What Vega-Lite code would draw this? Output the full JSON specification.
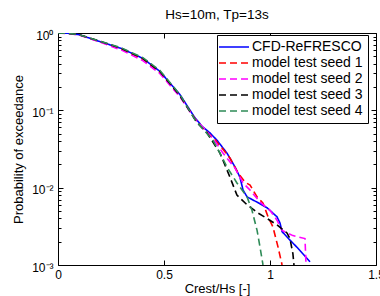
{
  "$schema": "https://vega.github.io/schema/vega-lite/v6.json",
  "width": 318,
  "height": 232,
  "autosize": {"type": "none"},
  "padding": {"left": 58, "top": 33, "right": 4, "bottom": 31},
  "background": "#ffffff",
  "title": {"text": "Hs=10m, Tp=13s", "anchor": "middle", "frame": "group", "offset": 8, "fontSize": 13.5, "fontWeight": "normal", "color": "#000", "font": "Liberation Sans"},
  "config": {
    "font": "Liberation Sans",
    "view": {"stroke": "#000", "strokeWidth": 1},
    "axis": {"grid": false, "domain": false, "labelColor": "#000", "titleColor": "#000", "tickColor": "#000", "labelFontSize": 12, "titleFontSize": 13, "titleFontWeight": "normal", "labelFlush": false, "labelOverlap": false, "labelBound": false, "labelFont": "Liberation Sans", "titleFont": "Liberation Sans"}
  },
  "data": {"values": [
    {"s": "CFD-ReFRESCO", "x": 0, "p": 1},
    {"s": "CFD-ReFRESCO", "x": 0.05, "p": 0.99},
    {"s": "CFD-ReFRESCO", "x": 0.1, "p": 0.95},
    {"s": "CFD-ReFRESCO", "x": 0.2, "p": 0.77},
    {"s": "CFD-ReFRESCO", "x": 0.3, "p": 0.63},
    {"s": "CFD-ReFRESCO", "x": 0.4, "p": 0.47},
    {"s": "CFD-ReFRESCO", "x": 0.48, "p": 0.32},
    {"s": "CFD-ReFRESCO", "x": 0.575, "p": 0.16},
    {"s": "CFD-ReFRESCO", "x": 0.646, "p": 0.08},
    {"s": "CFD-ReFRESCO", "x": 0.68, "p": 0.062},
    {"s": "CFD-ReFRESCO", "x": 0.717, "p": 0.051},
    {"s": "CFD-ReFRESCO", "x": 0.75, "p": 0.041},
    {"s": "CFD-ReFRESCO", "x": 0.797, "p": 0.028},
    {"s": "CFD-ReFRESCO", "x": 0.835, "p": 0.0185},
    {"s": "CFD-ReFRESCO", "x": 0.858, "p": 0.0137},
    {"s": "CFD-ReFRESCO", "x": 0.873, "p": 0.0093},
    {"s": "CFD-ReFRESCO", "x": 0.892, "p": 0.0076},
    {"s": "CFD-ReFRESCO", "x": 0.939, "p": 0.0065},
    {"s": "CFD-ReFRESCO", "x": 0.986, "p": 0.0055},
    {"s": "CFD-ReFRESCO", "x": 1.033, "p": 0.0042},
    {"s": "CFD-ReFRESCO", "x": 1.047, "p": 0.0035},
    {"s": "CFD-ReFRESCO", "x": 1.057, "p": 0.0027},
    {"s": "CFD-ReFRESCO", "x": 1.094, "p": 0.0021},
    {"s": "CFD-ReFRESCO", "x": 1.127, "p": 0.0017},
    {"s": "CFD-ReFRESCO", "x": 1.189, "p": 0.0011},
    {"s": "model test seed 1", "x": 0, "p": 1},
    {"s": "model test seed 1", "x": 0.05, "p": 0.99},
    {"s": "model test seed 1", "x": 0.1, "p": 0.95},
    {"s": "model test seed 1", "x": 0.2, "p": 0.77},
    {"s": "model test seed 1", "x": 0.3, "p": 0.62},
    {"s": "model test seed 1", "x": 0.4, "p": 0.46},
    {"s": "model test seed 1", "x": 0.48, "p": 0.31},
    {"s": "model test seed 1", "x": 0.575, "p": 0.155},
    {"s": "model test seed 1", "x": 0.646, "p": 0.078},
    {"s": "model test seed 1", "x": 0.69, "p": 0.056},
    {"s": "model test seed 1", "x": 0.74, "p": 0.042},
    {"s": "model test seed 1", "x": 0.78, "p": 0.031},
    {"s": "model test seed 1", "x": 0.811, "p": 0.0242},
    {"s": "model test seed 1", "x": 0.849, "p": 0.0155},
    {"s": "model test seed 1", "x": 0.882, "p": 0.0118},
    {"s": "model test seed 1", "x": 0.906, "p": 0.0108},
    {"s": "model test seed 1", "x": 0.939, "p": 0.0076},
    {"s": "model test seed 1", "x": 0.967, "p": 0.0063},
    {"s": "model test seed 1", "x": 0.991, "p": 0.0042},
    {"s": "model test seed 1", "x": 1.014, "p": 0.0031},
    {"s": "model test seed 1", "x": 1.038, "p": 0.0017},
    {"s": "model test seed 1", "x": 1.057, "p": 0.001},
    {"s": "model test seed 2", "x": 0, "p": 1},
    {"s": "model test seed 2", "x": 0.05, "p": 0.985},
    {"s": "model test seed 2", "x": 0.1, "p": 0.94},
    {"s": "model test seed 2", "x": 0.2, "p": 0.76},
    {"s": "model test seed 2", "x": 0.3, "p": 0.6},
    {"s": "model test seed 2", "x": 0.4, "p": 0.44},
    {"s": "model test seed 2", "x": 0.48, "p": 0.3},
    {"s": "model test seed 2", "x": 0.575, "p": 0.15},
    {"s": "model test seed 2", "x": 0.646, "p": 0.077},
    {"s": "model test seed 2", "x": 0.69, "p": 0.058},
    {"s": "model test seed 2", "x": 0.74, "p": 0.04},
    {"s": "model test seed 2", "x": 0.778, "p": 0.028},
    {"s": "model test seed 2", "x": 0.835, "p": 0.0179},
    {"s": "model test seed 2", "x": 0.873, "p": 0.0115},
    {"s": "model test seed 2", "x": 0.906, "p": 0.0093},
    {"s": "model test seed 2", "x": 0.953, "p": 0.0065},
    {"s": "model test seed 2", "x": 1.0, "p": 0.0051},
    {"s": "model test seed 2", "x": 1.033, "p": 0.0038},
    {"s": "model test seed 2", "x": 1.057, "p": 0.0028},
    {"s": "model test seed 2", "x": 1.108, "p": 0.0024},
    {"s": "model test seed 2", "x": 1.165, "p": 0.0022},
    {"s": "model test seed 2", "x": 1.17, "p": 0.001},
    {"s": "model test seed 3", "x": 0, "p": 1},
    {"s": "model test seed 3", "x": 0.05, "p": 0.99},
    {"s": "model test seed 3", "x": 0.1, "p": 0.95},
    {"s": "model test seed 3", "x": 0.2, "p": 0.78},
    {"s": "model test seed 3", "x": 0.3, "p": 0.63},
    {"s": "model test seed 3", "x": 0.4, "p": 0.47},
    {"s": "model test seed 3", "x": 0.48, "p": 0.32},
    {"s": "model test seed 3", "x": 0.575, "p": 0.155},
    {"s": "model test seed 3", "x": 0.656, "p": 0.069},
    {"s": "model test seed 3", "x": 0.703, "p": 0.051},
    {"s": "model test seed 3", "x": 0.764, "p": 0.028},
    {"s": "model test seed 3", "x": 0.811, "p": 0.0137},
    {"s": "model test seed 3", "x": 0.844, "p": 0.008},
    {"s": "model test seed 3", "x": 0.892, "p": 0.006},
    {"s": "model test seed 3", "x": 0.943, "p": 0.0047},
    {"s": "model test seed 3", "x": 0.986, "p": 0.004},
    {"s": "model test seed 3", "x": 1.033, "p": 0.0033},
    {"s": "model test seed 3", "x": 1.08, "p": 0.0026},
    {"s": "model test seed 3", "x": 1.094, "p": 0.0022},
    {"s": "model test seed 3", "x": 1.108, "p": 0.0014},
    {"s": "model test seed 3", "x": 1.113, "p": 0.001},
    {"s": "model test seed 4", "x": 0, "p": 1},
    {"s": "model test seed 4", "x": 0.05, "p": 0.99},
    {"s": "model test seed 4", "x": 0.1, "p": 0.95},
    {"s": "model test seed 4", "x": 0.2, "p": 0.78},
    {"s": "model test seed 4", "x": 0.3, "p": 0.64},
    {"s": "model test seed 4", "x": 0.4, "p": 0.48},
    {"s": "model test seed 4", "x": 0.48, "p": 0.33},
    {"s": "model test seed 4", "x": 0.575, "p": 0.16},
    {"s": "model test seed 4", "x": 0.646, "p": 0.076},
    {"s": "model test seed 4", "x": 0.69, "p": 0.055},
    {"s": "model test seed 4", "x": 0.731, "p": 0.041},
    {"s": "model test seed 4", "x": 0.764, "p": 0.028},
    {"s": "model test seed 4", "x": 0.797, "p": 0.0185},
    {"s": "model test seed 4", "x": 0.844, "p": 0.0115},
    {"s": "model test seed 4", "x": 0.892, "p": 0.0076},
    {"s": "model test seed 4", "x": 0.915, "p": 0.0051},
    {"s": "model test seed 4", "x": 0.939, "p": 0.0028},
    {"s": "model test seed 4", "x": 0.953, "p": 0.0017},
    {"s": "model test seed 4", "x": 0.967, "p": 0.001}
  ]},
  "resolve": {"axis": {"x": "independent", "y": "independent"}},
  "layer": [
    {
      "mark": {"type": "line", "strokeWidth": 1.6, "clip": true},
      "encoding": {
        "x": {"field": "x", "type": "quantitative", "scale": {"domain": [0, 1.5], "nice": false, "zero": false},
          "axis": {"orient": "bottom", "values": [0, 0.5, 1, 1.5], "labelExpr": "'' + datum.value", "tickSize": -5, "labelPadding": 9, "title": "Crest/Hs [-]", "titlePadding": 2}},
        "y": {"field": "p", "type": "quantitative", "scale": {"type": "log", "domain": [0.001, 1], "nice": false},
          "axis": {"orient": "left",
            "values": [0.001, 0.002, 0.003, 0.004, 0.005, 0.006, 0.007, 0.008, 0.009, 0.01, 0.02, 0.03, 0.04, 0.05, 0.06, 0.07, 0.08, 0.09, 0.1, 0.2, 0.3, 0.4, 0.5, 0.6, 0.7, 0.8, 0.9, 1],
            "labelExpr": "datum.value == 1 ? '10⁰' : datum.value == 0.1 ? '10⁻¹' : datum.value == 0.01 ? '10⁻²' : datum.value == 0.001 ? '10⁻³' : ''",
            "tickSize": {"condition": {"test": "indexof([1, 0.1, 0.01, 0.001], datum.value) >= 0", "value": -5}, "value": -3},
            "labelPadding": 10, "labelOffset": 2, "title": "Probability of exceedance", "titlePadding": 6}},
        "color": {"field": "s", "type": "nominal",
          "scale": {"domain": ["CFD-ReFRESCO", "model test seed 1", "model test seed 2", "model test seed 3", "model test seed 4"], "range": ["#0000ff", "#ff0000", "#ff00ff", "#000000", "#2e8b57"]},
          "legend": {"title": null, "orient": "none", "legendX": 159, "legendY": 2, "strokeColor": "#000", "fillColor": "#fff", "padding": 5, "labelFontSize": 14, "labelColor": "#000", "labelFont": "Liberation Sans", "symbolType": "M-3,0H3", "symbolSize": 100, "symbolOffset": 5, "symbolStrokeWidth": 1.5, "labelOffset": 11, "rowPadding": 2}},
        "strokeDash": {"field": "s", "type": "nominal",
          "scale": {"domain": ["CFD-ReFRESCO", "model test seed 1", "model test seed 2", "model test seed 3", "model test seed 4"], "range": [[1, 0], [7, 4], [7, 4], [7, 4], [7, 4]]},
          "legend": {"title": null, "orient": "none", "legendX": 159, "legendY": 2, "strokeColor": "#000", "fillColor": "#fff", "padding": 5, "labelFontSize": 14, "labelColor": "#000", "labelFont": "Liberation Sans", "symbolType": "M-3,0H3", "symbolSize": 100, "symbolOffset": 5, "symbolStrokeWidth": 1.5, "labelOffset": 11, "rowPadding": 2}}
      }
    },
    {
      "mark": {"type": "point", "opacity": 0, "size": 1},
      "encoding": {
        "x": {"field": "x", "type": "quantitative",
          "axis": {"orient": "top", "values": [0, 0.5, 1, 1.5], "labels": false, "tickSize": -5, "title": null}},
        "y": {"field": "p", "type": "quantitative",
          "axis": {"orient": "right",
            "values": [0.001, 0.002, 0.003, 0.004, 0.005, 0.006, 0.007, 0.008, 0.009, 0.01, 0.02, 0.03, 0.04, 0.05, 0.06, 0.07, 0.08, 0.09, 0.1, 0.2, 0.3, 0.4, 0.5, 0.6, 0.7, 0.8, 0.9, 1],
            "labels": false,
            "tickSize": {"condition": {"test": "indexof([1, 0.1, 0.01, 0.001], datum.value) >= 0", "value": -5}, "value": -3},
            "title": null}}
      }
    }
  ]
}
